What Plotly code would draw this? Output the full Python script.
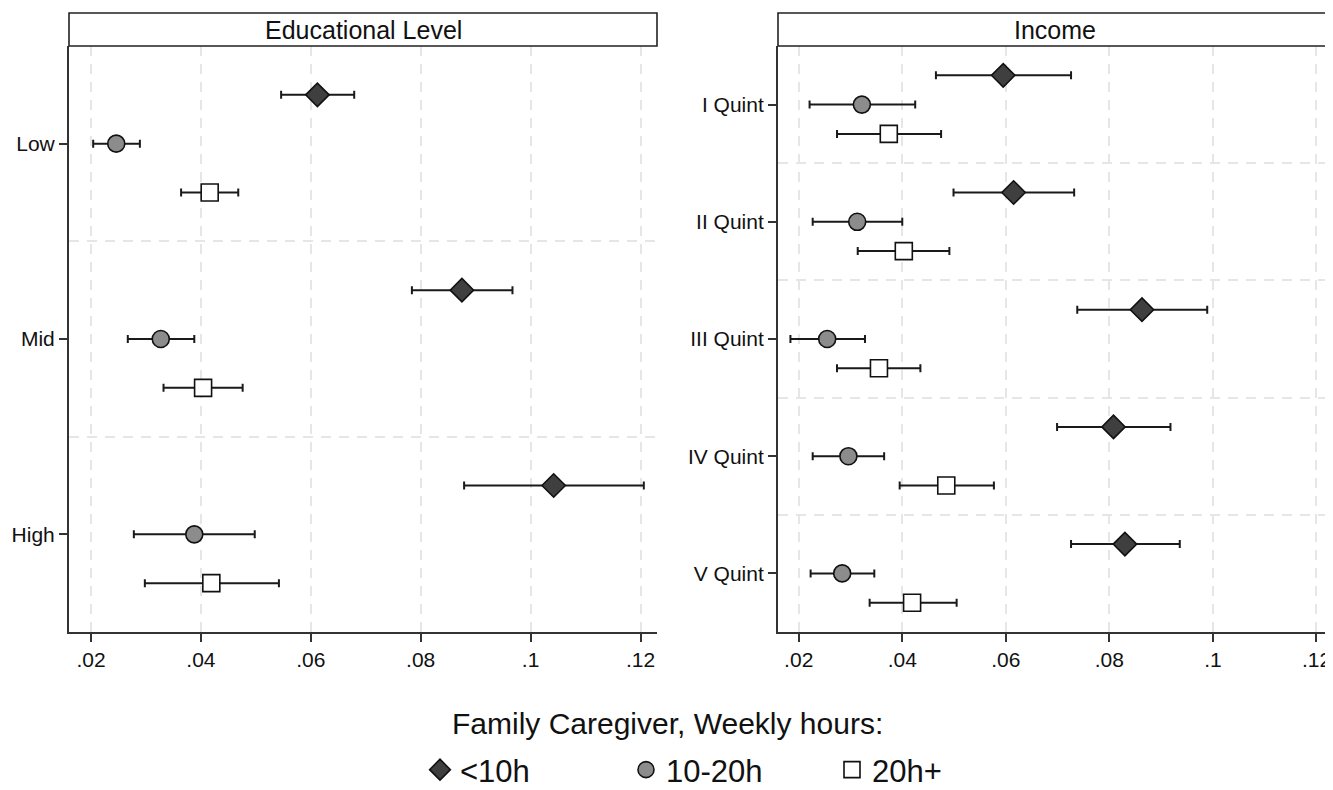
import plotly.graph_objects as go

# ---------------- data ----------------
edu_cats = ["Low", "Mid", "High"]
edu_lt10_est = [0.0612, 0.0875, 0.1042]
edu_lt10_lo = [0.0546, 0.0784, 0.0879]
edu_lt10_hi = [0.0679, 0.0967, 0.1206]
edu_10_20_est = [0.0246, 0.0327, 0.0388]
edu_10_20_lo = [0.0204, 0.0267, 0.0278]
edu_10_20_hi = [0.0289, 0.0388, 0.0498]
edu_20p_est = [0.0416, 0.0404, 0.0419]
edu_20p_lo = [0.0364, 0.0332, 0.0298]
edu_20p_hi = [0.0468, 0.0476, 0.0542]

inc_cats = ["I Quint", "II Quint", "III Quint", "IV Quint", "V Quint"]
inc_lt10_est = [0.0595, 0.0615, 0.0863, 0.0808, 0.0830]
inc_lt10_lo = [0.0465, 0.0499, 0.0738, 0.0699, 0.0726]
inc_lt10_hi = [0.0726, 0.0732, 0.0989, 0.0918, 0.0936]
inc_10_20_est = [0.0322, 0.0313, 0.0255, 0.0296, 0.0284]
inc_10_20_lo = [0.0221, 0.0227, 0.0184, 0.0227, 0.0223]
inc_10_20_hi = [0.0425, 0.0400, 0.0328, 0.0365, 0.0346]
inc_20p_est = [0.0374, 0.0403, 0.0355, 0.0485, 0.0419]
inc_20p_lo = [0.0274, 0.0314, 0.0274, 0.0395, 0.0337]
inc_20p_hi = [0.0475, 0.0491, 0.0435, 0.0577, 0.0505]

x_ticks = [0.02, 0.04, 0.06, 0.08, 0.10, 0.12]
x_tick_labels = [".02", ".04", ".06", ".08", ".1", ".12"]
panel_titles = ["Educational Level", "Income"]
legend_title = "Family Caregiver, Weekly hours:"
group_names = ["<10h", "10-20h", "20h+"]

# ---------------- styles ----------------
FONT = "Liberation Sans, Arial, sans-serif"
styles = [
    dict(symbol="diamond", size=18, color="#3f3f3f"),
    dict(symbol="circle", size=17, color="#8c8c8c"),
    dict(symbol="square", size=17, color="#ffffff"),
]
legend_sizes = [16, 16, 16]
offsets = [-0.25, 0.0, 0.25]

# page body has an 8px margin -> figure placed at (8, 8)
OFF = 8
W, H = 1333 - OFF, 790 - OFF
plot_top, plot_bot, strip_top = 46 - OFF, 632 - OFF, 13 - OFF
ydom = [(H - plot_bot) / H, (H - plot_top) / H]
strip_y1 = (H - strip_top) / H
xdoms = [[(69 - OFF) / W, (657 - OFF) / W], [(778 - OFF) / W, (1332 - OFF) / W]]

fig = go.Figure()

panels = [
    (edu_cats, [(edu_lt10_est, edu_lt10_lo, edu_lt10_hi),
                (edu_10_20_est, edu_10_20_lo, edu_10_20_hi),
                (edu_20p_est, edu_20p_lo, edu_20p_hi)]),
    (inc_cats, [(inc_lt10_est, inc_lt10_lo, inc_lt10_hi),
                (inc_10_20_est, inc_10_20_lo, inc_10_20_hi),
                (inc_20p_est, inc_20p_lo, inc_20p_hi)]),
]

for p, (cats, series) in enumerate(panels):
    xa = "x" if p == 0 else "x2"
    ya = "y" if p == 0 else "y2"
    for g, (est, lo, hi) in enumerate(series):
        ypos = [i + 0.5 + offsets[g] for i in range(len(cats))]
        st = styles[g]
        fig.add_trace(go.Scatter(
            x=est, y=ypos, mode="markers", xaxis=xa, yaxis=ya,
            showlegend=False, cliponaxis=False,
            error_x=dict(type="data", symmetric=False,
                         array=[h - e for h, e in zip(hi, est)],
                         arrayminus=[e - l for e, l in zip(est, lo)],
                         color="#1a1a1a", thickness=2, width=4),
            marker=dict(symbol=st["symbol"], size=st["size"], color=st["color"],
                        line=dict(color="#111111", width=1.6)),
            hoverinfo="x+y",
        ))

# legend-only traces
for g, name in enumerate(group_names):
    st = styles[g]
    fig.add_trace(go.Scatter(
        x=[None], y=[None], mode="markers", name=name, xaxis="x", yaxis="y",
        marker=dict(symbol=st["symbol"], size=legend_sizes[g], color=st["color"],
                    line=dict(color="#111111", width=1.6)),
    ))

grid = dict(showgrid=True, gridcolor="#e6e6e6", gridwidth=2, griddash="10px,8px")
axis_common = dict(showline=True, linecolor="#333333", linewidth=2,
                   ticks="outside", ticklen=8, tickwidth=1.5, tickcolor="#333333",
                   zeroline=False, tickfont=dict(family=FONT, size=21, color="#111111"))

for p, (cats, _) in enumerate(panels):
    n = len(cats)
    xkey = "xaxis" if p == 0 else "xaxis2"
    ykey = "yaxis" if p == 0 else "yaxis2"
    fig.update_layout(**{
        xkey: dict(domain=xdoms[p], range=[0.016, 0.123], tickvals=x_ticks,
                   ticktext=x_tick_labels, anchor="y" if p == 0 else "y2",
                   **grid, **axis_common),
        ykey: dict(domain=ydom, range=[n, 0], tickvals=[i + 0.5 for i in range(n)],
                   ticktext=cats, anchor="x" if p == 0 else "x2", showgrid=False,
                   minor=dict(tickvals=list(range(1, n)), showgrid=True,
                              gridcolor="#e6e6e6", gridwidth=2, griddash="10px,8px",
                              ticklen=0),
                   **axis_common),
    })

shapes = []
annotations = []
for p in range(2):
    shapes.append(dict(type="rect", xref="paper", yref="paper",
                       x0=xdoms[p][0], x1=xdoms[p][1], y0=ydom[1], y1=strip_y1,
                       fillcolor="white", line=dict(color="#222222", width=1.6)))
    annotations.append(dict(xref="paper", yref="paper",
                            x=(xdoms[p][0] + xdoms[p][1]) / 2,
                            y=(ydom[1] + strip_y1) / 2,
                            text=panel_titles[p], showarrow=False,
                            xanchor="center", yanchor="middle",
                            font=dict(family=FONT, size=25, color="#111111")))

annotations.append(dict(xref="paper", yref="paper", x=(667 - OFF) / W,
                        y=(H - (723 - OFF)) / H,
                        text=legend_title, showarrow=False, xanchor="center",
                        yanchor="middle", font=dict(family=FONT, size=30, color="#111111")))

fig.update_layout(
    width=W, height=H, margin=dict(l=0, r=0, t=0, b=0, autoexpand=False),
    paper_bgcolor="white", plot_bgcolor="white",
    shapes=shapes, annotations=annotations,
    legend=dict(orientation="h", x=(729 - OFF) / W, xanchor="center",
                xref="container", yref="container",
                y=(H - (770 - OFF)) / H,
                yanchor="middle", font=dict(family=FONT, size=31, color="#111111"),
                itemwidth=30, entrywidth=161, entrywidthmode="pixels",
                bgcolor="rgba(0,0,0,0)"),
    font=dict(family=FONT),
)

fig.write_html("out.html")
